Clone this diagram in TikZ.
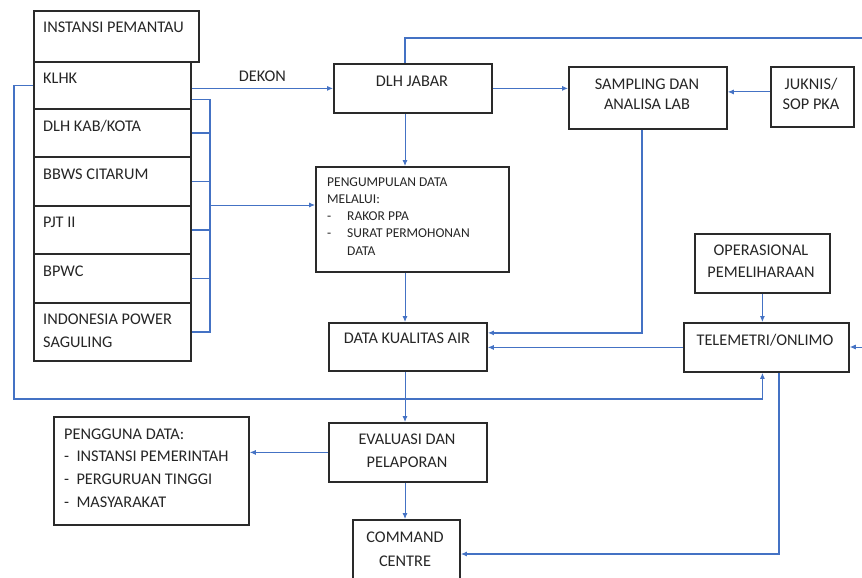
\documentclass[tikz,border=0pt]{standalone}
\usepackage{fontspec}
\setmainfont{Carlito}
\usetikzlibrary{arrows.meta}
\definecolor{lb}{HTML}{4472C4}
\definecolor{bd}{HTML}{2A2A2A}
\definecolor{tx}{HTML}{262626}
\begin{document}
\begin{tikzpicture}[x=1pt,y=-1pt,
  box/.style={draw=bd,line width=1.8pt,anchor=north west,inner sep=0pt,fill=white},
  tip/.style={-{Latex[length=6pt,width=5pt]}},
  con/.style={draw=lb,line width=0.9pt,tip},
  thk/.style={draw=lb,line width=1.6pt},
  txt/.style={font=\fontsize{16.3}{19}\selectfont,text=tx,inner sep=0pt,text height=11pt,text depth=3pt},
  ctxt/.style={txt,align=center},
  stxt/.style={font=\fontsize{13.5}{17}\selectfont,text=tx,inner sep=0pt,align=left,text height=9.5pt,text depth=2.5pt}]
\useasboundingbox (0,0) rectangle (862,578);
\clip (0,0) rectangle (862,578);
\fill[white] (0,0) rectangle (862,578);

% coordinates
\coordinate (cx) at (405,0);
\coordinate (bx) at (210,205);
\coordinate (re1) at (862,38);
\coordinate (re2) at (862,347);
\coordinate (ll) at (14,399);
\coordinate (tb) at (779,554);
\coordinate (sx) at (642,0);

% left stack
\node[box,minimum width=165pt,minimum height=51pt] (inst) at (33,10) {};
\node[box,minimum width=157pt,minimum height=47pt] (klhk) at (33,61) {};
\node[box,minimum width=157pt,minimum height=48pt] (dlh) at (33,108) {};
\node[box,minimum width=157pt,minimum height=49pt] (bbws) at (33,156) {};
\node[box,minimum width=157pt,minimum height=48pt] (pjt) at (33,205) {};
\node[box,minimum width=157pt,minimum height=49pt] (bpwc) at (33,253) {};
\node[box,minimum width=157pt,minimum height=58pt] (ip) at (33,302) {};

\node[txt,anchor=west] (tinst) at (43,29) {INSTANSI PEMANTAU};
\node[txt,anchor=west] (tklhk) at (43,79) {KLHK};
\node[txt,anchor=west] (tdlh) at (43,127) {DLH KAB/KOTA};
\node[txt,anchor=west] (tbbws) at (43,175) {BBWS CITARUM};
\node[txt,anchor=west] (tpjt) at (43,223) {PJT II};
\node[txt,anchor=west] (tbpwc) at (43,272) {BPWC};
\node[txt,anchor=west] (tip1) at (43,320) {INDONESIA POWER};
\node[txt,anchor=west] (tip2) at (43,343) {SAGULING};

% middle column
\node[box,minimum width=158pt,minimum height=49pt] (jabar) at (333,63) {};
\node[ctxt] (tjabar) at (412,83) {DLH JABAR};
\node[box,minimum width=193pt,minimum height=105pt] (peng) at (315,166) {};
\node[stxt,anchor=west] (tp1) at (327,183) {PENGUMPULAN DATA};
\node[stxt,anchor=west] (tp2) at (327,200) {MELALUI:};
\node[stxt,anchor=west] (tp3) at (327,217) {-};
\node[stxt,anchor=west] (tp4) at (327,234) {-};
\node[stxt,anchor=west] (tp5) at (347,217) {RAKOR PPA};
\node[stxt,anchor=west] (tp6) at (347,234) {SURAT PERMOHONAN};
\node[stxt,anchor=west] (tp7) at (347,252) {DATA};
\node[box,minimum width=158pt,minimum height=48pt] (dka) at (328,322) {};
\node[ctxt] (tdka) at (407,339) {DATA KUALITAS AIR};
\node[box,minimum width=158pt,minimum height=59pt] (eval) at (328,422) {};
\node[ctxt] (teval1) at (407,440) {EVALUASI DAN};
\node[ctxt] (teval2) at (407,463) {PELAPORAN};
\node[box,minimum width=107pt,minimum height=80pt] (cmd) at (352,519) {};
\node[ctxt] (tcmd1) at (405,538) {COMMAND};
\node[ctxt] (tcmd2) at (405,562) {CENTRE};

% pengguna
\node[box,minimum width=195pt,minimum height=108pt] (pg) at (53,416) {};
\node[txt,anchor=west] (tpg1) at (64,435) {PENGGUNA DATA:};
\node[txt,anchor=west] (tpg2) at (64,457) {-~~INSTANSI PEMERINTAH};
\node[txt,anchor=west] (tpg3) at (64,480) {-~~PERGURUAN TINGGI};
\node[txt,anchor=west] (tpg4) at (64,503) {-~~MASYARAKAT};

% right column
\node[box,minimum width=158pt,minimum height=62pt] (samp) at (568,66) {};
\node[ctxt] (tsamp1) at (647,85) {SAMPLING DAN};
\node[ctxt] (tsamp2) at (647,106) {ANALISA LAB};
\node[box,minimum width=83pt,minimum height=60pt] (juk) at (770,66) {};
\node[ctxt] (tjuk1) at (811,85) {JUKNIS/};
\node[ctxt] (tjuk2) at (811,106) {SOP PKA};
\node[box,minimum width=135pt,minimum height=59pt] (oper) at (694,233) {};
\node[ctxt] (toper1) at (761,251) {OPERASIONAL};
\node[ctxt] (toper2) at (761,273) {PEMELIHARAAN};
\node[box,minimum width=165pt,minimum height=49pt] (tel) at (683,322) {};
\node[ctxt] (ttel) at (765,341) {TELEMETRI/ONLIMO};

% connectors
\draw[con] (klhk.east |- jabar.west) -- node[txt,above=3pt] (dekon) {DEKON} (jabar.west);
\draw[thk] ([yshift=-14pt]klhk.east) -| (ip.east -| bx) -- (ip.east);
\foreach \n in {dlh,bbws,pjt,bpwc} \draw[thk] (\n.east) -- (\n.east -| bx);
\draw[con] (bx) -- (bx -| peng.west);

\draw[thk] (jabar.north -| cx) |- (re1);
\draw[con] (jabar.south -| cx) -- (peng.north -| cx);
\draw[con] (peng.south -| cx) -- (dka.north -| cx);
\draw[con] (dka.south -| cx) -- (eval.north -| cx);
\draw[con] (eval.south -| cx) -- (cmd.north -| cx);
\draw[con] (jabar.east) -- (jabar.east -| samp.west);
\draw[con] ([yshift=5pt]juk.west) -- ([yshift=5pt]juk.west -| samp.east);
\draw[thk,tip] (samp.south -| sx) |- ([yshift=14pt]dka.east);
\draw[con] (tel.west) -- (tel.west -| dka.east);
\draw[con] (oper.south) -- (oper.south |- tel.north);
\draw[con] (re2) -- (re2 -| tel.east);
\draw[con,line width=1.2pt] (klhk.west) -| (ll) -| (tel.south -| oper.south);
\draw[thk,tip] (tel.south -| tb) |- (tb -| cmd.east);
\draw[con] (eval.west) -- (eval.west -| pg.east);
\end{tikzpicture}
\end{document}
